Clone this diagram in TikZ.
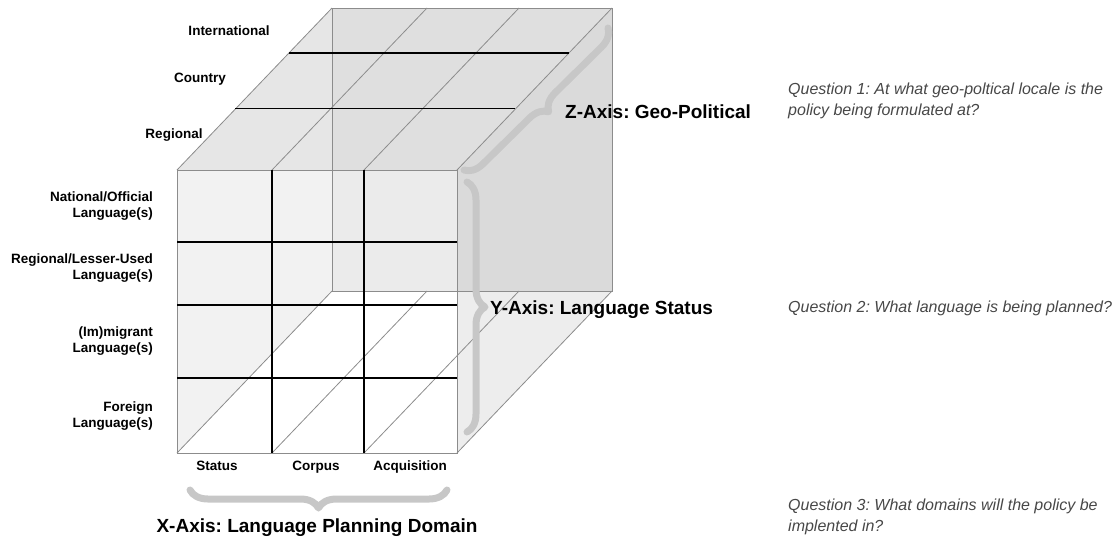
\documentclass[tikz,border=0pt]{standalone}
\usepackage{fontspec}
\setmainfont{Liberation Sans}
\frenchspacing
\usetikzlibrary{calc,decorations.pathreplacing}
\def\drawedge{\draw[color=black!45, line width=0.8pt]}
\def\drawgrid{\draw[color=black, line width=1.1pt]}
\def\drawbrace{\draw[color=black!22, line width=7pt, line cap=round, line join=round, decorate, decoration={brace, amplitude=18pt}]}
\tikzset{
  rowlabel/.style={anchor=east, align=right, font=\fontsize{13.5}{16.5}\selectfont\bfseries},
  collabel/.style={anchor=base, font=\fontsize{13.5}{16.5}\selectfont\bfseries},
  axislabel/.style={font=\fontsize{19}{22}\selectfont\bfseries},
  question/.style={anchor=west, align=left, text=black!72, font=\fontsize{16}{21}\selectfont\itshape}
}

\begin{document}
\begin{tikzpicture}[x=1pt,y=-1pt,inner sep=0pt]
\useasboundingbox (0,0) rectangle (1119,539);
% corners of the cube
\coordinate (ftl) at (177,170);
\coordinate (ftr) at (457,170);
\coordinate (fbl) at (177,453);
\coordinate (fbr) at (457,453);
\coordinate (btl) at (332,8);
\coordinate (btr) at (612,8);
\coordinate (bbl) at (332,291);
\coordinate (bbr) at (612,291);
% faces
\fill[black, fill opacity=0.08] (btl) -- (btr) -- (bbr) -- (bbl) -- cycle;
\fill[black, fill opacity=0.05] (ftl) -- (btl) -- (bbl) -- (fbl) -- cycle;
\fill[black, fill opacity=0.05] (ftl) -- (btl) -- (btr) -- (ftr) -- cycle;
\fill[black, fill opacity=0.07] (ftr) -- (btr) -- (bbr) -- (fbr) -- cycle;
% edges
\drawedge (ftl) rectangle (fbr);
\drawedge (btl) rectangle (bbr);
\foreach \c in {tl,tr,bl,br}
  \drawedge (f\c) -- (b\c);
% columns
\foreach \x in {272,364} {
  \drawedge (\x,453) -- ++(155,-162);
  \drawedge (\x,170) -- ++(155,-162);
  \drawgrid (\x,170) -- (\x,453);
}
% rows
\foreach \y in {242,305,378}
  \drawgrid (177,\y) -- (457,\y);
% depth
\foreach \d in {0.377,0.722}
  \drawgrid ($(ftl)!\d!(btl)$) -- ($(ftr)!\d!(btr)$);
% braces
\coordinate (zbs) at (608,28);
\coordinate (zbe) at (464,170);
\coordinate (ybs) at (467,182);
\coordinate (ybe) at (467,432);
\coordinate (xbs) at (447,490);
\coordinate (xbe) at (190,490);
\drawbrace (zbs) -- (zbe);
\drawbrace (ybs) -- (ybe);
\drawbrace (xbs) -- (xbe);
% depth labels
\node[collabel] (intl) at (229,35) {International};
\node[collabel] (country) at (200,82) {Country};
\node[collabel] (region) at (174,138) {Regional};
% row labels
\node[rowlabel] (natl) at (153,206) {National/Official\\Language(s)};
\node[rowlabel] (lesser) at (153,268) {Regional/Lesser-Used\\Language(s)};
\node[rowlabel] (migr) at (153,341) {(Im)migrant\\Language(s)};
\node[rowlabel] (foreign) at (153,416) {Foreign\\Language(s)};
% column labels
\node[collabel] (status) at (217,470) {Status};
\node[collabel] (corpus) at (316,470) {Corpus};
\node[collabel] (acq) at (410,470) {Acquisition};
% axes
\node[axislabel, anchor=west] (zaxis) at (565,112) {Z-Axis: Geo-Political};
\node[axislabel, anchor=west] (yaxis) at (490,310) {Y-Axis: Language Status};
\node[axislabel] (xaxis) at (317,528) {X-Axis: Language Planning Domain};
% questions
\node[question] (qone) at (788,101) {Question 1: At what geo-poltical locale is the\\policy being formulated at?};
\node[question] (qtwo) at (788,308) {Question 2: What language is being planned?};
\node[question] (qthree) at (788,517) {Question 3: What domains will the policy be\\implented in?};
\end{tikzpicture}
\end{document}
